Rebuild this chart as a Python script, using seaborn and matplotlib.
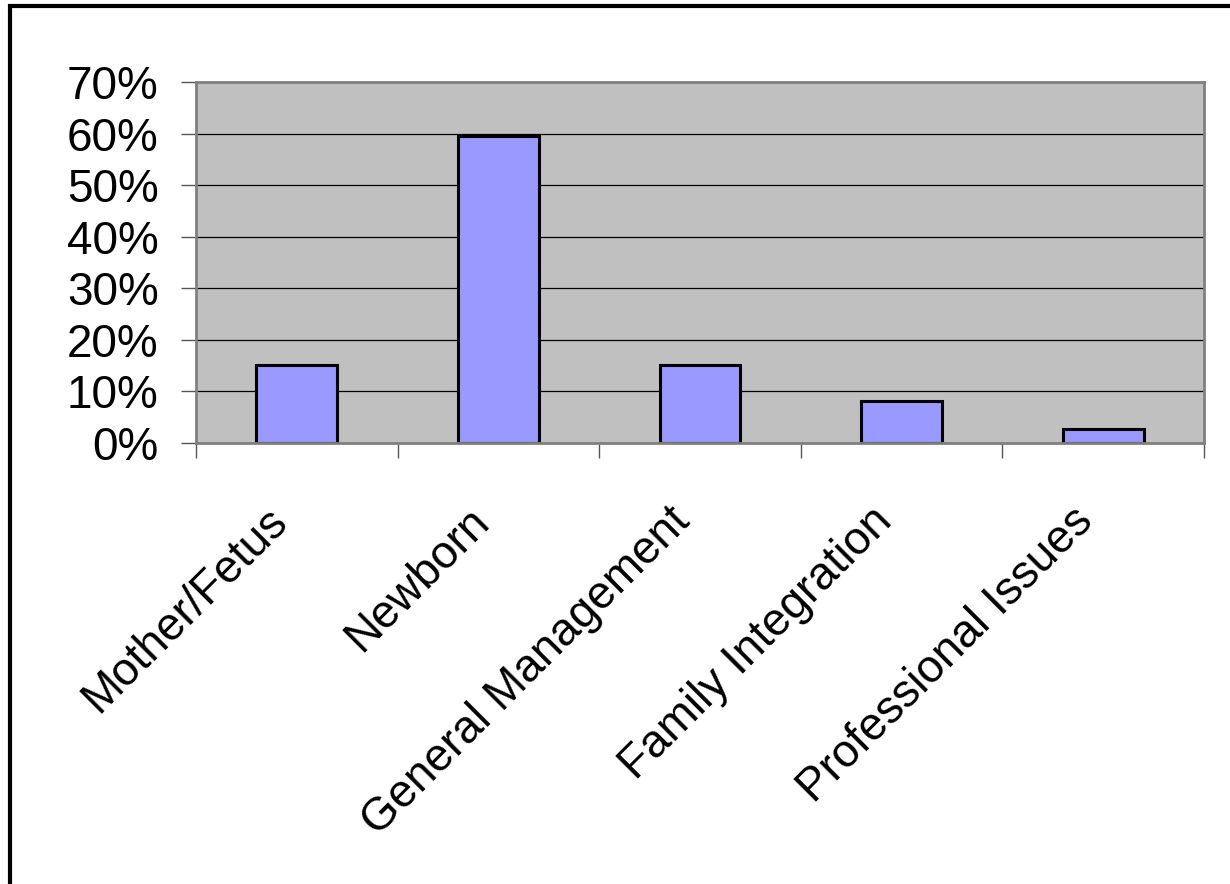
import matplotlib
matplotlib.use('Agg')
import matplotlib.pyplot as plt
import matplotlib.patches as mpatches
import matplotlib.transforms as mtransforms
from matplotlib.ticker import PercentFormatter, FixedLocator
import seaborn as sns
import pandas as pd

# Values
categories = ['Mother/Fetus', 'Newborn', 'General Management',
              'Family Integration', 'Professional Issues']
shares = [15.2, 59.6, 15.2, 8.2, 2.7]

df = pd.DataFrame({'category': categories, 'share': shares})

sns.set_style('white')
plt.rcParams['font.family'] = ['Liberation Sans', 'DejaVu Sans']
plt.rcParams['text.color'] = 'black'
plt.rcParams['xtick.color'] = 'black'
plt.rcParams['ytick.color'] = 'black'

fig = plt.figure(figsize=(12.3, 8.84), dpi=100)
ax = fig.add_axes([196 / 1230, 1 - 443 / 884, 1008 / 1230, 361 / 884])

sns.barplot(data=df, x='category', y='share', color='#9999FF',
            width=0.4, edgecolor='black', linewidth=2.2, saturation=1,
            ax=ax, zorder=3)

ax.set_facecolor('#C0C0C0')
ax.set_ylim(0, 70)
ax.set_xlim(-0.5, len(categories) - 0.5)
ax.set_yticks(range(0, 71, 10))
ax.yaxis.set_major_formatter(PercentFormatter(decimals=0))
ax.grid(axis='y', color='black', linewidth=0.9, zorder=1)
ax.set_axisbelow(True)
ax.set_xlabel('')
ax.set_ylabel('')

for side in ['left', 'bottom', 'top', 'right']:
    ax.spines[side].set_visible(True)
    ax.spines[side].set_color('#808080')
    ax.spines[side].set_linewidth(2)
    ax.spines[side].set_zorder(4)

ax.tick_params(axis='y', which='major', direction='out', length=11,
               width=1, color='#555555', labelcolor='black', labelsize=33,
               pad=16, left=True)
ax.tick_params(axis='x', which='major', length=0, labelsize=33,
               labelcolor='black', pad=0)
ax.xaxis.set_minor_locator(FixedLocator([i - 0.5 for i in range(len(categories) + 1)]))
ax.tick_params(axis='x', which='minor', direction='out', length=11,
               width=1, color='#555555', bottom=True)

# slanted category labels, end of each label just left of its slot centre
shift = mtransforms.ScaledTranslation(-32 / 100, -56 / 100, fig.dpi_scale_trans)
for lbl in ax.get_xticklabels():
    lbl.set_rotation(45)
    lbl.set_ha('right')
    lbl.set_va('top')
    lbl.set_rotation_mode('anchor')
    lbl.set_transform(lbl.get_transform() + shift)

# outer frame of the original slide (only top and left edges visible)
frame = mpatches.Rectangle((10 / 1230, -0.1), 1.2, 1 - 6 / 884 + 0.1,
                           transform=fig.transFigure, fill=False,
                           edgecolor='black', linewidth=3, clip_on=False)
fig.patches.append(frame)

fig.savefig('out.png', dpi=100, facecolor='white')
